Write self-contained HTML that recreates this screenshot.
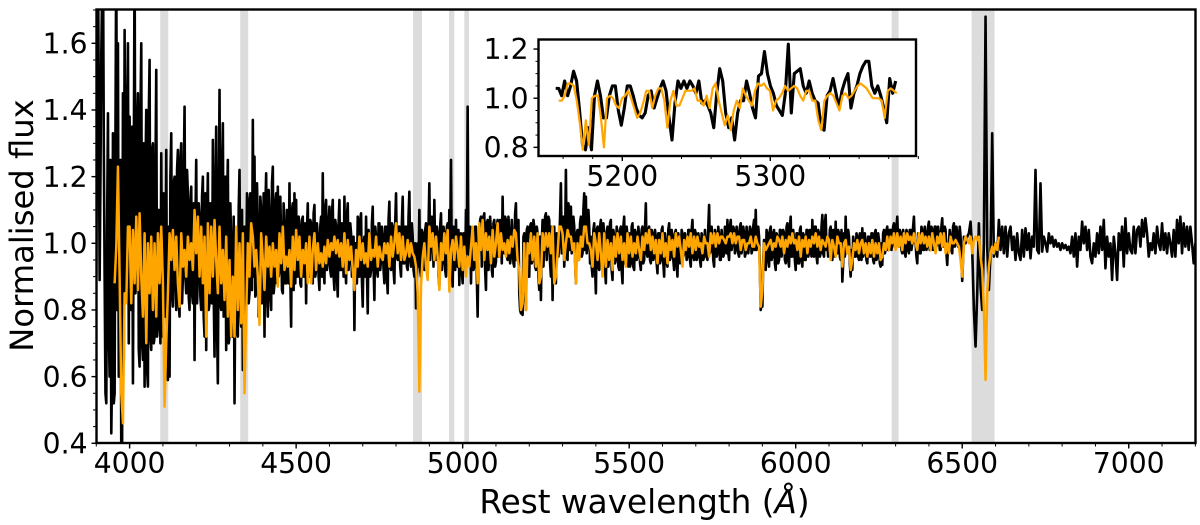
<!DOCTYPE html>
<html>
<head>
<meta charset="utf-8">
<style>
html,body{margin:0;padding:0;background:#fff;}
svg{display:block;}
text{font-family:"DejaVu Sans","Liberation Sans",sans-serif;fill:#000;}
</style>
</head>
<body>
<svg id="chart" xmlns="http://www.w3.org/2000/svg" width="1200" height="525" viewBox="0 0 1200 525">
<defs>
<clipPath id="mainClip"><rect x="96.5" y="9.5" width="1099" height="433.5"/></clipPath>
<clipPath id="insetClip"><rect x="538.5" y="39.5" width="377.5" height="116.5"/></clipPath>
</defs>
<g id="bands"></g>
<g id="mainLines" clip-path="url(#mainClip)"></g>
<g id="mainAxes"></g>
<text x="644.5" y="513" font-size="32.7" text-anchor="middle">Rest wavelength (<tspan font-style="italic">Å</tspan>)</text>
<text transform="translate(33,225.5) rotate(-90)" font-size="32.2" text-anchor="middle">Normalised flux</text>
<rect x="538.5" y="39.5" width="377.5" height="116.5" fill="#fff"/>
<g id="insetLines" clip-path="url(#insetClip)"></g>
<g id="insetAxes"></g>
</svg>
<script>
const maskBands = [[4092,4116],[4332,4356],[4851,4878],[4959,4975],[5005,5019],[6288,6309],[6528,6597]];
const mainXMajor = [4000,4500,5000,5500,6000,6500,7000];
const mainYMajor = [0.4,0.6,0.8,1.0,1.2,1.4,1.6];
const insetXMajor = [5200,5300];
const insetYMajor = [0.8,1.0,1.2];
const observedStart = 3900;
const observedStep = 5;
const observedFlux = [
.90,1.90,.89,1.57,1.90,.90,.52,1.39,.60,.43,1.33,.55,1.90,1.60,.75,.35,1.45,1.64,.85,1.60,
1.38,.80,.58,1.90,.90,1.45,.63,1.60,.65,.57,1.40,.57,1.55,.68,1.30,.72,1.52,.75,.90,1.27,
.72,1.05,1.28,.59,.60,1.33,.81,1.20,.80,1.28,.78,1.30,.90,1.41,.85,1.15,.80,1.17,.82,.65,
1.25,.90,1.08,.80,1.20,.72,.68,1.21,.82,1.10,1.31,.66,1.35,.58,1.46,.80,1.36,.85,.68,1.25,
.72,1.00,.75,.52,1.00,.72,1.22,.75,.62,1.05,.90,1.13,.85,1.12,1.37,1.26,.85,1.05,.80,1.10,
.88,.72,1.21,.78,1.08,.80,1.23,.88,1.15,1.17,.92,1.02,.85,1.05,.88,.96,1.18,.75,1.12,1.15,
1.13,.90,1.05,.87,1.08,.94,.82,1.12,.90,1.06,.88,1.115,.92,1.02,.86,1.08,1.21,.88,1.13,.94,
1.11,.90,1.13,.86,1.05,.84,1.13,.92,1.02,1.14,.88,1.12,.95,1.03,.90,.74,1.00,1.08,.90,1.09,
.81,1.02,1.08,.79,1.00,.92,1.11,.83,1.02,.90,1.06,.95,1.02,.88,1.05,.85,1.125,.92,1.05,.88,
1.15,.95,1.05,.90,1.14,.94,1.05,.92,1.155,.93,1.02,.90,.805,1.00,1.10,.90,1.03,.92,1.06,.98,
1.18,1.00,1.05,1.13,.95,1.03,.87,1.09,.95,1.03,.90,1.06,1.10,1.25,.87,1.00,1.07,.93,.875,1.03,
.88,1.02,1.10,1.41,.95,.88,1.00,.93,1.05,.78,1.00,1.08,1.00,1.09,.86,1.07,.96,1.03,.90,1.07,
.945,1.07,.97,1.02,1.14,.97,1.07,.95,1.03,.96,1.01,.93,1.12,.98,.85,.79,.785,1.03,.80,1.05,
.90,1.06,.95,1.05,.92,1.03,.86,.83,1.07,1.00,1.09,1.00,1.07,.90,.83,1.05,.88,1.02,1.00,1.18,
1.00,.93,1.22,.95,1.10,1.11,1.00,1.05,.88,1.04,.98,1.08,.97,1.15,1.14,1.00,1.05,1.02,.90,1.06,
.85,1.05,.92,1.07,.95,1.03,.88,1.05,.96,1.07,.89,1.02,.95,1.03,.92,1.05,.88,1.08,.95,1.02,
1.03,.94,1.06,.92,1.03,.96,1.02,.92,1.05,.95,1.12,.96,1.05,.94,1.03,.96,1.02,.91,1.03,.95,
1.05,.90,1.00,.93,1.06,.96,1.02,.92,1.04,.90,1.00,.95,1.03,.97,1.01,.96,1.04,.93,1.07,.95,
1.03,.96,1.01,.93,1.02,.96,1.00,.95,1.115,.98,1.01,.93,1.03,.97,1.02,.95,1.00,.97,1.00,1.07,
.95,1.07,1.00,1.04,.98,1.03,.96,1.06,1.00,1.03,.97,1.02,1.00,1.04,.98,1.07,1.10,.99,1.02,.80,
.81,1.01,.92,1.03,.93,1.05,.96,1.04,.92,1.02,.95,1.04,.98,1.03,.94,1.06,.93,1.08,.96,1.01,
.92,1.03,.94,1.05,.93,1.02,.95,1.04,.97,1.02,1.07,.96,1.05,.94,1.03,.97,1.085,.96,1.085,1.00,
.97,1.05,.95,1.03,1.065,.97,1.03,.95,.885,1.03,1.08,.98,1.02,.90,.92,1.00,.96,1.02,.95,1.00,
1.045,.97,1.00,.94,1.02,.96,1.03,.94,1.04,.96,1.01,.93,.935,1.04,.98,1.05,.98,1.04,1.01,1.06,
1.00,1.08,.99,1.03,.97,1.02,.96,1.03,.97,1.04,1.00,1.08,1.00,.94,1.02,.97,1.04,.98,1.03,.99,
1.065,.98,1.04,.99,1.05,1.00,1.03,.98,1.075,1.00,1.04,.935,1.00,1.02,.97,1.06,1.00,1.03,.99,1.02,
.887,1.02,1.00,1.02,1.03,1.065,.98,.80,.69,.85,1.06,.87,.80,1.00,1.68,.99,.86,.97,1.33,.96,
1.00,.96,1.07,.98,1.05,.97,1.05,.96,1.03,1.05,.98,1.02,.95,1.03,.97,.95,1.04,.96,1.045,.98,
1.03,.955,1.02,.99,1.22,.98,.97,1.18,.975,1.02,1.00,.975,1.03,1.00,1.02,.99,1.01,.99,1.00,.98,
1.00,.985,.995,.98,.99,.97,1.02,.96,1.03,.93,1.02,.98,1.065,1.00,1.05,.98,1.04,.96,.94,1.00,
.96,1.03,.97,1.05,.98,1.07,.925,1.02,.96,1.00,.89,1.02,.97,.89,1.03,.98,1.05,.93,1.075,.97,
1.03,.98,.97,1.05,.97,1.04,1.05,.99,1.07,1.02,1.075,1.03,.96,1.00,.98,1.03,.97,1.05,1.00,.98,
1.06,.98,1.03,.97,1.03,1.00,.96,1.04,.96,1.07,1.00,1.08,.97,1.06,.99,1.05,.98,1.05,1.00,.94,
1.00];
const observedMidFlux = [
1.50,1.40,1.20,1.75,1.30,.55,1.05,.75,1.25,.62,.52,1.32,.80,.60,1.25,.40,.65,.95,1.38,.70,
1.10,1.35,1.20,.85,1.35,.68,1.38,.70,1.30,1.20,.62,1.38,.72,1.28,.70,1.20,.72,1.10,.70,.85,
1.15,.78,.70,1.05,1.20,.85,1.18,.88,1.22,.82,1.25,.82,1.20,.90,1.22,.84,1.12,.85,1.12,1.05,
.82,1.12,.84,1.14,.78,1.15,1.05,.80,1.12,.82,.85,1.15,.75,1.10,.82,1.22,.78,1.20,1.12,.70,
1.12,.72,1.08,.90,.74,1.10,.80,1.10,.95,.78,1.15,.82,1.15,.86,.90,.84,1.18,.78,1.14,.82,
1.15,1.10,.85,1.16,.84,1.18,.85,1.12,.88,.90,1.14,.86,1.12,.88,1.10,.88,.90,1.10,.86,.88,
.90,1.08,.88,1.07,.90,1.06,1.04,.90,1.07,.90,1.09,.90,1.06,.90,1.05,.90,.92,1.10,.92,1.06,
.92,1.09,.90,1.07,.90,1.06,.92,1.06,.90,.94,1.08,.92,1.06,.90,1.02,1.00,.88,.90,1.07,.89,
1.00,.90,.92,1.04,.90,1.06,.93,1.05,.92,1.06,.92,1.05,.92,1.05,.90,1.07,.93,1.06,.92,1.06,
.96,1.05,.93,1.06,.94,1.05,.93,1.08,.95,1.06,.92,1.00,.90,.93,.92,1.04,.93,1.04,.92,1.05,
.95,1.08,.93,.97,1.05,.90,1.05,.92,1.05,.92,1.05,.94,.97,.93,1.05,.92,.94,1.04,.98,.92,
1.03,.93,.97,.95,1.05,1.02,.92,1.05,.90,1.00,1.07,.93,1.08,.92,1.06,.92,1.08,.92,1.06,.93,
1.05,.96,1.07,.94,.98,1.08,.96,1.08,.94,1.07,.94,1.09,.95,1.07,.80,.80,1.02,.84,1.04,.90,
1.05,.94,1.07,.93,1.05,.90,1.02,1.00,.93,1.08,.95,1.08,.94,1.05,1.00,.90,1.03,.96,1.08,.97,
1.08,1.00,.96,1.12,.98,.97,1.08,.95,1.03,.95,1.06,.96,1.10,.98,.97,1.10,.94,.93,1.04,.93,
1.04,.93,1.05,.94,1.06,.92,1.03,.93,1.06,.92,1.04,.94,1.05,.93,1.04,.92,1.05,.94,1.05,.93,
.93,1.05,.93,1.04,.95,1.05,.94,1.04,.94,1.04,.97,1.04,.95,1.04,.95,1.04,.94,1.03,.94,1.04,
.94,1.03,.94,1.04,.95,1.04,.95,1.03,.94,1.03,.94,1.04,.96,1.03,.95,1.04,.95,1.04,.96,1.04,
.95,1.03,.95,1.03,.95,1.04,.96,1.05,.97,1.05,.95,1.04,.96,1.05,.95,1.04,.96,1.05,.97,.97,
1.05,.98,1.05,.97,1.05,.97,1.05,.97,1.05,.96,1.05,.97,1.05,.97,1.05,.98,.98,1.05,.92,.82,
.95,.93,1.04,.95,1.04,.95,1.03,.94,1.03,.94,1.04,.96,1.04,.95,1.05,.95,1.05,.96,1.04,.95,
1.03,.94,1.04,.95,1.03,.95,1.04,.96,1.04,.96,.97,1.05,.96,1.04,.96,1.05,.97,1.06,.98,.96,
1.04,.96,1.04,.96,.97,1.04,.96,1.04,.94,.96,.97,1.04,.94,.98,1.02,.96,1.03,.96,1.03,.95,
.96,1.03,.95,1.02,.96,1.03,.95,1.03,.95,1.03,.94,1.00,1.03,.97,1.04,.98,1.04,.98,1.05,.99,
1.05,1.00,1.04,.98,1.04,.97,1.04,.98,1.04,.98,1.05,1.00,.96,1.03,.97,1.05,.98,1.05,.98,1.05,
.98,1.05,.98,1.05,.99,1.05,.98,1.05,.99,1.05,.97,1.00,1.04,.98,1.05,.99,1.05,.99,1.05,.96];
const modelStart = 3955;
const modelStep = 5;
const modelFlux = [
.88,.99,1.23,.90,.55,.46,.85,.82,1.05,
1.05,.82,1.04,.88,1.08,.86,1.09,.90,.78,1.03,.70,1.00,.85,1.02,.80,1.00,.78,1.03,.88,1.05,
.88,.51,.70,.85,1.03,.95,1.04,.92,1.02,.88,.81,1.03,.93,.98,.90,1.02,.95,1.00,.92,1.10,
.97,1.08,.90,1.05,.88,1.02,.72,1.06,.85,1.05,.90,1.07,.95,.85,1.05,.88,.98,.83,1.02,.78,
.95,.72,.90,.72,1.05,.80,1.00,.76,1.03,.55,.78,1.00,.90,1.06,1.02,.93,.98,.90,.755,1.03,
.95,.86,1.02,.93,.99,.90,1.00,.93,.98,.87,1.03,.94,1.05,.92,.96,.93,.98,.87,1.02,.92,
1.04,.95,1.02,.90,.98,.94,1.00,.88,1.02,.88,.98,1.03,.92,1.00,.94,.97,.93,.99,.94,1.01,
.96,1.00,.98,1.02,.97,1.01,.96,1.00,.93,1.03,.91,1.01,.95,.99,.92,.86,.98,.93,1.02,.95,
1.00,.94,.97,.93,1.03,.95,.98,.96,1.02,.93,.99,.96,.95,1.00,.97,1.00,.93,1.02,.96,1.00,
1.06,.97,1.03,.95,1.02,.95,.97,1.01,.96,1.00,.97,.96,.93,.85,.555,.87,.96,1.00,.93,.89,
1.05,.99,1.03,.95,1.02,.96,.86,1.00,.95,1.03,.97,1.04,.855,.98,1.01,.95,1.02,.98,.93,1.02,
.92,.99,.90,.96,.93,.99,1.05,.95,1.00,.88,1.06,.98,1.07,.95,1.03,.98,1.02,.94,1.04,.96,
1.00,1.06,.96,1.03,.98,1.00,.96,1.01,.97,1.02,.99,1.04,1.03,.95,.92,.80,.82,1.00,.80,1.00,
.97,1.03,.95,1.02,.93,1.03,.88,.90,1.03,.98,1.03,.99,1.03,.97,1.05,.88,.90,.97,1.05,1.05,
1.03,.95,1.00,1.04,1.02,1.02,.98,1.00,.88,1.00,.95,1.02,.99,1.05,1.05,1.00,1.00,.98,.93,1.03,
1.00,.95,1.03,.97,.90,1.03,.93,1.01,.95,1.00,.92,1.02,.96,1.03,.97,1.02,.95,1.00,.93,1.03,
.97,1.02,.96,1.00,.97,1.02,.98,.95,1.02,.98,1.03,1.00,1.04,.98,1.02,.97,1.01,.94,1.01,.97,
1.03,.96,1.00,.94,1.02,.98,1.01,.96,1.03,.99,1.02,.98,.93,1.01,.98,1.02,.99,1.03,.97,1.02,
.98,1.02,.99,1.00,.97,1.02,1.00,1.00,.96,1.03,1.00,1.03,.99,1.03,1.00,1.02,1.02,1.01,1.00,1.02,
1.02,1.03,1.00,1.03,1.00,1.02,1.02,.98,1.01,1.01,.98,1.00,1.00,1.02,.99,.99,1.02,1.00,.99,.81,
.86,1.00,.98,.99,1.00,1.01,.98,1.00,.99,1.02,1.01,.99,1.02,.97,1.01,.99,1.02,1.00,1.03,1.00,
1.01,.98,1.02,.96,1.01,.99,1.02,.97,1.01,.99,1.02,1.00,1.03,.99,1.02,.98,1.01,1.00,.99,1.02,
1.01,.95,1.01,.99,.96,1.02,1.00,1.00,.93,1.00,1.01,.97,.99,.92,.95,1.00,.98,1.01,.97,1.00,
1.01,.97,1.00,.96,1.00,.97,1.01,.96,1.00,.97,1.00,.95,.96,1.00,.98,1.02,.98,1.02,1.00,1.03,
.98,1.03,.99,1.02,.98,1.03,1.00,1.03,1.01,1.02,1.00,1.03,1.00,.98,1.03,1.00,1.03,1.00,1.02,.99,
1.02,.98,1.03,1.00,.97,1.02,1.00,1.03,.99,1.03,.97,1.00,.97,1.02,1.00,1.00,1.01,1.00,.99,.95,
.90,1.00,1.02,1.01,1.00,1.02,.97,1.01,1.02,1.01,1.02,.96,.92,.80,.59,.85,.93,.97,.99,.97,
1.00,.98,1.02];
const insetObservedStart = 5155;
const insetObservedStep = 2.015;
const insetObservedFlux = [
1.04,1.04,1.01,1.07,1.01,1.05,1.11,1.07,.95,.81,.79,.88,.79,1.01,1.07,1.01,.92,.92,1.01,1.05,
1.05,.95,.89,.96,1.05,1.05,1.01,.96,.93,.92,.94,1.01,1.03,.96,1.00,1.04,1.07,1.03,.92,.83,
.98,1.07,1.04,1.07,1.04,1.07,1.05,1.02,1.07,.98,.99,.97,.94,.88,1.02,1.12,1.07,.94,.88,.92,
.83,.94,.99,.99,1.07,1.02,.96,.92,1.09,1.10,1.19,1.10,1.05,1.02,.97,.95,.93,1.02,1.22,.94,
1.10,1.11,1.12,1.05,1.02,1.07,1.02,.99,.98,.88,.87,1.01,1.03,1.08,1.02,.96,1.03,1.07,1.10,.96,
1.02,1.05,1.10,1.13,1.15,1.15,1.05,1.02,1.05,1.01,.96,.90,1.08,1.02,1.07];
const insetModelStart = 5157;
const insetModelStep = 2.04;
const insetModelFlux = [
.99,.99,1.01,1.06,1.06,1.05,.99,.90,.79,.91,.81,1.00,1.01,1.01,.92,.80,1.00,1.01,1.00,.97,
.96,1.00,1.01,1.03,1.00,.96,.92,.94,.98,1.03,1.03,.96,1.01,1.04,1.04,.99,.88,.99,1.03,.97,
.97,1.00,1.03,1.03,1.03,1.04,.99,.99,.97,1.01,.96,1.04,1.06,.99,.94,.89,.93,.87,.95,.99,
.96,1.04,1.01,.99,.97,1.03,1.06,1.05,1.06,1.04,1.03,.95,.99,1.00,1.02,1.05,1.03,1.04,1.05,1.04,
1.01,.99,1.03,1.03,.99,.99,.91,.87,.99,1.01,1.02,1.01,.98,.95,1.01,1.02,1.00,1.01,1.03,1.05,
1.06,1.05,1.04,1.02,1.00,1.00,1.00,.99,.92,1.03,1.04,1.03,1.02];

const NS = 'http://www.w3.org/2000/svg';
const mainX = w => 96.3 + (w - 3900) * 0.33305;
const mainY = f => 243.3 - (f - 1) * 333.3;
const insetX = w => 622.3 + (w - 5200) * 1.48;
const insetY = f => 98.2 - (f - 1) * 245.8;

function samplePoints(start, step, values, midValues, xs, ys) {
  const pts = [];
  values.forEach((v, i) => {
    const w = start + i * step;
    pts.push(xs(w).toFixed(2) + ',' + ys(v).toFixed(2));
    if (i < midValues.length) {
      pts.push(xs(w + step / 2).toFixed(2) + ',' + ys(midValues[i]).toFixed(2));
    }
  });
  return pts.join(' ');
}
function makeLine(points, color, width) {
  const el = document.createElementNS(NS, 'polyline');
  el.setAttribute('points', points);
  el.setAttribute('fill', 'none');
  el.setAttribute('stroke', color);
  el.setAttribute('stroke-width', width);
  el.setAttribute('stroke-linejoin', 'round');
  return el;
}
function makeTick(x1, y1, x2, y2, width) {
  const el = document.createElementNS(NS, 'line');
  el.setAttribute('x1', x1);
  el.setAttribute('y1', y1);
  el.setAttribute('x2', x2);
  el.setAttribute('y2', y2);
  el.setAttribute('stroke', '#000');
  el.setAttribute('stroke-width', width);
  return el;
}
function makeLabel(x, y, anchor, str) {
  const el = document.createElementNS(NS, 'text');
  el.setAttribute('x', x);
  el.setAttribute('y', y);
  el.setAttribute('text-anchor', anchor);
  el.setAttribute('font-size', '28.2');
  el.textContent = str;
  return el;
}
function makeFrame(x, y, w, h) {
  const el = document.createElementNS(NS, 'rect');
  el.setAttribute('x', x);
  el.setAttribute('y', y);
  el.setAttribute('width', w);
  el.setAttribute('height', h);
  el.setAttribute('fill', 'none');
  el.setAttribute('stroke', '#000');
  el.setAttribute('stroke-width', '2.4');
  return el;
}

const bandsG = document.getElementById('bands');
maskBands.forEach(b => {
  const r = document.createElementNS(NS, 'rect');
  
  
  r.setAttribute('x', mainX(b[0]));
  r.setAttribute('y', 9.5);
  r.setAttribute('width', mainX(b[1]) - mainX(b[0]));
  r.setAttribute('height', 433.5);
  r.setAttribute('fill', '#dcdcdc');
  bandsG.appendChild(r);
});

const mainLinesG = document.getElementById('mainLines');
const obsLine = makeLine(samplePoints(observedStart, observedStep, observedFlux, observedMidFlux, mainX, mainY), '#000', 2.6);


mainLinesG.appendChild(obsLine);
const modLine = makeLine(samplePoints(modelStart, modelStep, modelFlux, [], mainX, mainY), '#ffa500', 2.5);


mainLinesG.appendChild(modLine);

const mainAxesG = document.getElementById('mainAxes');
for (let w = 3900; w <= 7200; w += 100) {
  const t = makeTick(mainX(w), 443, mainX(w), 446.5, 1);
  
  
  mainAxesG.appendChild(t);
}
for (let k = 8; k <= 34; k++) {
  const t = makeTick(96.5, mainY(k / 20), 93, mainY(k / 20), 1);
  
  
  mainAxesG.appendChild(t);
}
mainXMajor.forEach(w => {
  const t = makeTick(mainX(w), 443, mainX(w), 448.5, 1.4);
  
  
  mainAxesG.appendChild(t);
  const l = makeLabel(mainX(w), 473, 'middle', String(w));
  
  
  mainAxesG.appendChild(l);
});
mainYMajor.forEach(f => {
  const t = makeTick(96.5, mainY(f), 91.5, mainY(f), 1.4);
  
  
  mainAxesG.appendChild(t);
  const l = makeLabel(87.5, mainY(f) + 10.2, 'end', f.toFixed(1));
  
  
  mainAxesG.appendChild(l);
});
const mainFrame = makeFrame(96.5, 9.5, 1099, 433.5);


mainAxesG.appendChild(mainFrame);

const insetLinesG = document.getElementById('insetLines');
const insObs = makeLine(samplePoints(insetObservedStart, insetObservedStep, insetObservedFlux, [], insetX, insetY), '#000', 3.1);


insetLinesG.appendChild(insObs);
const insMod = makeLine(samplePoints(insetModelStart, insetModelStep, insetModelFlux, [], insetX, insetY), '#ffa500', 2.2);


insetLinesG.appendChild(insMod);

const insetAxesG = document.getElementById('insetAxes');
for (let w = 5160; w <= 5400; w += 20) {
  const t = makeTick(insetX(w), 156, insetX(w), 159, 1);
  
  
  insetAxesG.appendChild(t);
}
for (let k = 16; k <= 24; k++) {
  const t = makeTick(538.5, insetY(k / 20), 535.5, insetY(k / 20), 1);
  
  
  insetAxesG.appendChild(t);
}
insetXMajor.forEach(w => {
  const t = makeTick(insetX(w), 156, insetX(w), 161, 1.4);
  
  
  insetAxesG.appendChild(t);
  const l = makeLabel(insetX(w), 186, 'middle', String(w));
  
  
  insetAxesG.appendChild(l);
});
insetYMajor.forEach(f => {
  const t = makeTick(538.5, insetY(f), 533.5, insetY(f), 1.4);
  
  
  insetAxesG.appendChild(t);
  const l = makeLabel(528.5, insetY(f) + 10.2, 'end', f.toFixed(1));
  
  
  insetAxesG.appendChild(l);
});
const insetFrame = makeFrame(538.5, 39.5, 377.5, 116.5);


insetAxesG.appendChild(insetFrame);
</script>
</body>
</html>
